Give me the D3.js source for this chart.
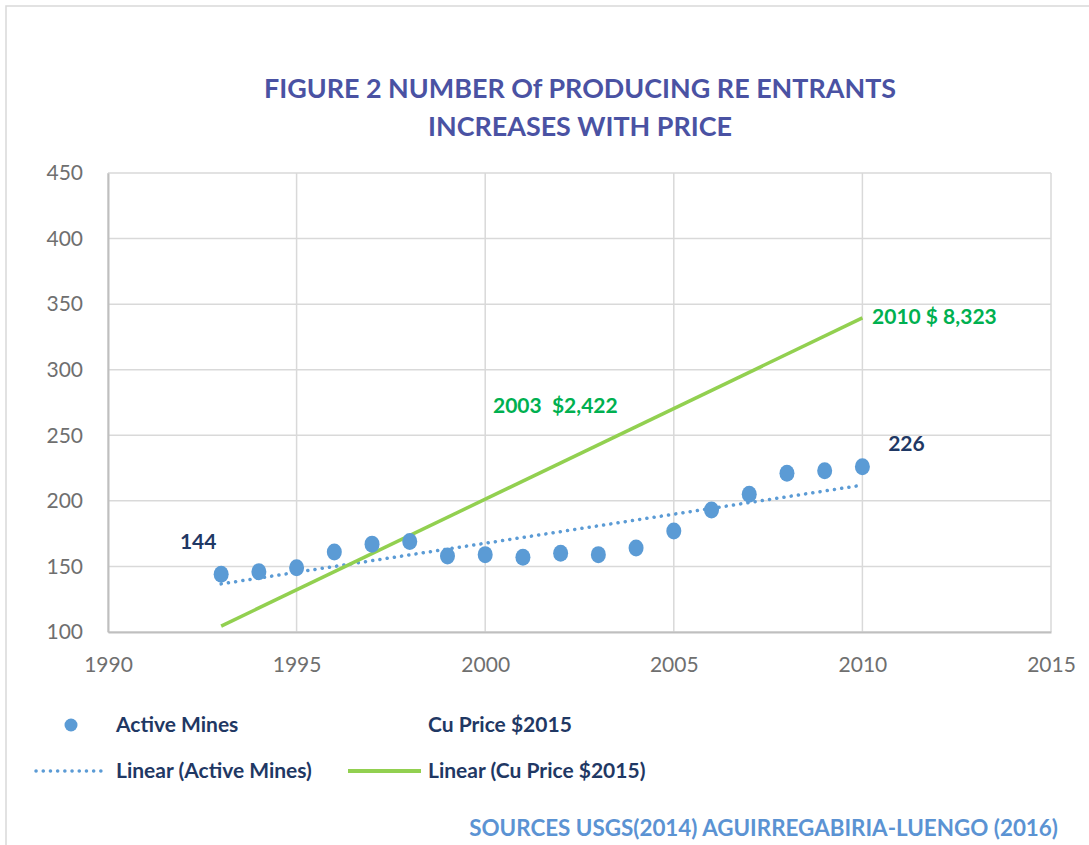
<!DOCTYPE html>
<html>
<head>
<meta charset="utf-8">
<script src="https://cdn.jsdelivr.net/npm/d3@7"></script>
<style>
  body { margin: 0; background: #fff; }
  svg { font-family: Lato, "Open Sans", sans-serif; }
</style>
</head>
<body>
<div class="chart"></div>
<script>
// data
const years = [1993, 1994, 1995, 1996, 1997, 1998, 1999, 2000, 2001, 2002, 2003, 2004, 2005, 2006, 2007, 2008, 2009, 2010]
const activeMines = [144, 146, 149, 161, 167, 169, 158, 159, 157, 160, 159, 164, 177, 193, 205, 221, 223, 226]
// Cu price trend line endpoints (in axis units)
const cuTrendYears = [1993, 2010]
const cuTrendValues = [104.5, 339.5]
const xTicks = [1990, 1995, 2000, 2005, 2010, 2015]
const yTicks = [100, 150, 200, 250, 300, 350, 400, 450]
const annotations = [
    { x: 1993, y: 144, text: "144", color: "#1f3864", dx: -23, dy: -31 },
    { x: 2010, y: 226, text: "226", color: "#1f3864", dx: 44, dy: -21 },
    { x: 2003, y: 273, text: "2003  $2,422", color: "#00b050", dx: -43, dy: 2 },
    { x: 2010, y: 340, text: "2010 $ 8,323", color: "#00b050", dx: 72, dy: 1 }
]

const W = 1089, H = 845
const margin = { top: 173, right: 38, bottom: 213, left: 108 }
const width = W - margin.left - margin.right
const height = H - margin.top - margin.bottom

const svg = d3.select(".chart")
    .append("svg")
    .attr("width", W)
    .attr("height", H)

// outer frame
svg.append("rect")
    .attr("x", 6).attr("y", 6)
    .attr("width", W + 20).attr("height", H + 20)
    .style("fill", "none")
    .style("stroke", "#d9d9d9")
    .style("stroke-width", 1.5)

const titleLines = [
    { text: "FIGURE 2 NUMBER Of PRODUCING RE ENTRANTS", y: 91, len: 632 },
    { text: "INCREASES WITH PRICE", y: 129, len: 304 }
]
svg.selectAll(".title")
    .data(titleLines)
    .enter()
    .append("text")
    .attr("x", 580).attr("y", d => d.y)
    .attr("text-anchor", "middle")
    .attr("dominant-baseline", "middle")
    .attr("textLength", d => d.len)
    .attr("lengthAdjust", "spacingAndGlyphs")
    .style("font-size", "26px").style("font-weight", "bold")
    .style("fill", "#4a52a3")
    .text(d => d.text)

const g = svg.append("g").attr("transform", `translate(${margin.left},${margin.top})`)

const x = d3.scaleLinear().domain([1990, 2015]).range([0, width])
const y = d3.scaleLinear().domain([100, 450]).range([height, 0])

// gridlines
g.selectAll(".hgrid").data(yTicks).enter().append("line")
    .attr("x1", 0).attr("x2", width)
    .attr("y1", d => y(d)).attr("y2", d => y(d))
    .style("stroke", "#d9d9d9").style("stroke-width", 1.5)
g.selectAll(".vgrid").data(xTicks).enter().append("line")
    .attr("x1", d => x(d)).attr("x2", d => x(d))
    .attr("y1", 0).attr("y2", height)
    .style("stroke", "#d9d9d9").style("stroke-width", 1.5)

// axes
const xAxis = g.append("g")
    .attr("transform", `translate(0,${height})`)
    .call(d3.axisBottom(x).tickValues(xTicks).tickFormat(d3.format("d")).tickSize(0).tickPadding(25))
const yAxis = g.append("g")
    .call(d3.axisLeft(y).tickValues(yTicks).tickSize(0).tickPadding(25))
for (const ax of [xAxis, yAxis]) {
    ax.select(".domain").style("stroke", "#bfbfbf").style("stroke-width", 2)
    ax.selectAll("text")
        .style("font-family", "Lato, sans-serif")
        .style("font-size", "21px").style("fill", "#6f6f6f")
}

// linear trend for active mines
const xm = d3.mean(years), ym = d3.mean(activeMines)
const slope = d3.sum(years, (d, i) => (d - xm) * (activeMines[i] - ym)) / d3.sum(years, d => (d - xm) ** 2)
const trend = d => ym + slope * (d - xm)
const x0 = years[0], x1 = years[years.length - 1]

g.append("line")
    .attr("x1", x(x0)).attr("y1", y(trend(x0)))
    .attr("x2", x(x1)).attr("y2", y(trend(x1)))
    .style("stroke", "#5b9bd5").style("stroke-width", 3.5)
    .style("stroke-dasharray", "0.1 7.2").style("stroke-linecap", "round")

// cu price trend
g.append("line")
    .attr("x1", x(cuTrendYears[0])).attr("y1", y(cuTrendValues[0]))
    .attr("x2", x(cuTrendYears[1])).attr("y2", y(cuTrendValues[1]))
    .style("stroke", "#92d050").style("stroke-width", 3.5)

// points
g.selectAll("ellipse")
    .data(years)
    .enter()
    .append("ellipse")
    .attr("cx", d => x(d))
    .attr("cy", (d, i) => y(activeMines[i]))
    .attr("rx", 7.5).attr("ry", 8.5)
    .style("fill", "#5b9bd5")

g.selectAll(".ann")
    .data(annotations)
    .enter()
    .append("text")
    .attr("x", d => x(d.x) + d.dx)
    .attr("y", d => y(d.y) + d.dy)
    .attr("text-anchor", "middle")
    .attr("dominant-baseline", "middle")
    .style("white-space", "pre")
    .style("font-size", "21px").style("font-weight", "bold")
    .style("fill", d => d.color)
    .text(d => d.text)

// legend
const leg = svg.append("g").style("font-size", "21px").style("font-weight", "bold").style("fill", "#1f3864")
leg.append("circle").attr("cx", 71).attr("cy", 725).attr("r", 6.5).style("fill", "#5b9bd5")
leg.append("text").attr("x", 116).attr("y", 727).attr("dominant-baseline", "middle").text("Active Mines")
leg.append("text").attr("x", 428).attr("y", 727).attr("dominant-baseline", "middle").text("Cu Price $2015")
leg.append("line").attr("x1", 36).attr("x2", 107).attr("y1", 771).attr("y2", 771)
    .style("stroke", "#5b9bd5").style("stroke-width", 3.5)
    .style("stroke-dasharray", "0.1 7.1").style("stroke-linecap", "round")
leg.append("text").attr("x", 116).attr("y", 773).attr("dominant-baseline", "middle").text("Linear (Active Mines)")
leg.append("line").attr("x1", 348).attr("x2", 421).attr("y1", 771).attr("y2", 771)
    .style("stroke", "#92d050").style("stroke-width", 4)
leg.append("text").attr("x", 428).attr("y", 773).attr("dominant-baseline", "middle").text("Linear (Cu Price $2015)")

svg.append("text")
    .attr("x", 1058).attr("y", 830)
    .attr("text-anchor", "end").attr("dominant-baseline", "middle")
    .style("font-size", "22.4px").style("font-weight", "bold")
    .style("fill", "#5b93d3")
    .text("SOURCES USGS(2014) AGUIRREGABIRIA-LUENGO (2016)")
</script>
</body>
</html>
